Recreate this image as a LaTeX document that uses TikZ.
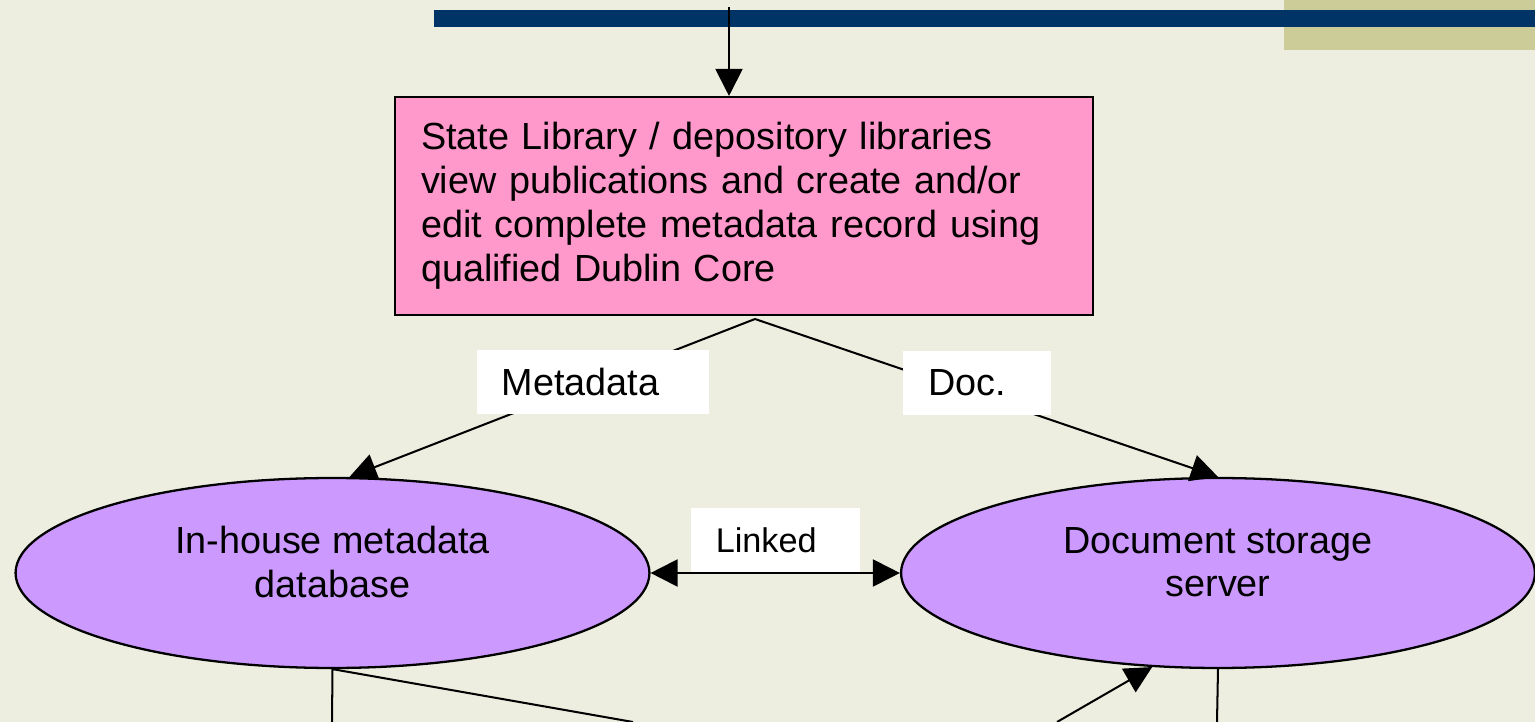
\documentclass[tikz,border=0pt]{standalone}
\usepackage{fontspec}
\setmainfont{Liberation Sans}
\usetikzlibrary{shapes.geometric,arrows.meta}
\definecolor{paper}{HTML}{EEEEE0}
\definecolor{khaki}{HTML}{CCCC99}
\definecolor{navy}{HTML}{003366}
\definecolor{taskpink}{HTML}{FF99CC}
\definecolor{storelilac}{HTML}{CC99FF}
\newcommand{\bigfont}{\fontsize{21.5}{25}\selectfont}

\begin{document}
\begin{tikzpicture}[x=0.02cm,y=-0.02cm,line width=1.15pt,
    >={Triangle[length=0.54cm,width=0.54cm]},
    task/.style={draw,fill=taskpink,line width=1.2pt,minimum width=13.96cm,minimum height=4.36cm,
      text width=12.92cm,inner xsep=0.52cm,align=left,font=\bigfont},
    store/.style={ellipse,draw,fill=storelilac,line width=1.3pt,minimum width=12.68cm,
      minimum height=3.8cm,inner sep=0pt,align=center,font=\bigfont},
    tag/.style={fill=white,text width=#1,inner xsep=0.5cm,inner ysep=0pt,
      minimum height=1.28cm,align=left,font=\bigfont}]
                \useasboundingbox (0,0) rectangle (1535,722);
                \fill[paper] (0,0) rectangle (1535,722);
                \fill[khaki] (1284,0) rectangle (1535,50);
                \fill[navy] (434,10) rectangle (1535,27);

                \node[task] (pub) at (744,206) {State Library / depository libraries\\
                  view publications and create and/or\\
                  edit complete metadata record using\\
                  qualified Dublin Core};
                \node[store] (db) at (332.5,573) {In-house metadata\\database\\[-0.44cm]\mbox{}};
                \node[store] (srv) at (1218,573) {Document storage\\server\\[-0.44cm]\mbox{}};

                \coordinate (feed) at (729,7);
                \coordinate (fork) at (755,319);
                \coordinate (dbdown) at (332,722);
                \coordinate (dbacross) at (633,722);
                \coordinate (srvfrom) at (1057,722);
                \coordinate (srvdown) at (1217,722);

                \draw[->] (feed) -- (feed |- pub.north);
                \draw[->] (fork) -- node[tag=3.64cm,pos=0.4] {Metadata} (db.80);
                \draw[->] (fork) -- node[tag=1.96cm,pos=0.48,yshift=0.24cm] {Doc.} (srv.north);
                \draw[<->] (db.east) -- node[tag=2.38cm,anchor=south,font=\fontsize{19.5}{23}\selectfont] {Linked} (srv.west);
                \draw (db.south) -- (dbdown);
                \draw (db.south) -- (dbacross);
                \draw[->] (srvfrom) -- (srv.235);
                \draw (srv.south) -- (srvdown);
            \end{tikzpicture}
\end{document}
